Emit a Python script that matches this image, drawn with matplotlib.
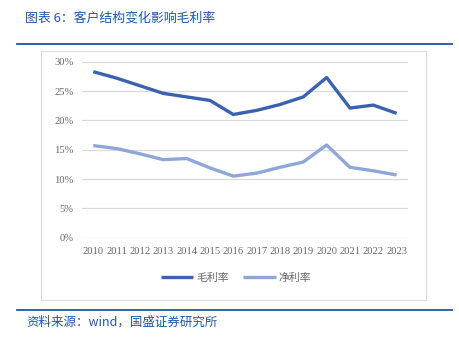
import matplotlib
matplotlib.use("Agg")
import matplotlib.pyplot as plt
from matplotlib.patches import Rectangle
from matplotlib.lines import Line2D
from matplotlib.ticker import PercentFormatter

years = ["2010", "2011", "2012", "2013", "2014", "2015", "2016",
         "2017", "2018", "2019", "2020", "2021", "2022", "2023"]
gross_margin = [28.3, 27.2, 25.9, 24.6, 24.0, 23.4, 21.0,
                21.7, 22.7, 24.0, 27.3, 22.1, 22.6, 21.2]
net_margin = [15.7, 15.2, 14.3, 13.3, 13.5, 11.9, 10.5,
              11.0, 12.0, 12.9, 15.8, 12.0, 11.4, 10.7]
series_names = ["毛利率", "净利率"]

W, H = 460, 344
cjk = ["Noto Sans CJK SC", "DejaVu Sans"]
blue_dark = "#3A62AE"
blue_light = "#8FA6D8"
rule_blue = "#1F55A8"
grey = "#666666"

fig = plt.figure(figsize=(W / 100, H / 100), dpi=100)

def fx(px):
    return px / W

def fy(py):
    return 1 - py / H

# header and footer rules
fig.add_artist(Line2D([fx(17), fx(452)], [fy(44), fy(44)], color=rule_blue, lw=1.3))
fig.add_artist(Line2D([fx(17), fx(452)], [fy(310), fy(310)], color=rule_blue, lw=1.3))
fig.text(fx(25), fy(18), "图表 6：客户结构变化影响毛利率", family=cjk, fontsize=9.3,
         color=rule_blue, va="center", ha="left")
fig.text(fx(26), fy(322), "资料来源：wind，国盛证券研究所", family=cjk, fontsize=9.0,
         color=rule_blue, va="center", ha="left")

# chart frame
fig.add_artist(Rectangle((fx(40.5), fy(300)), fx(426) - fx(40.5), fy(51) - fy(300),
                         transform=fig.transFigure, fill=False, edgecolor="#D9D9D9", lw=0.8))

ax = fig.add_axes([fx(81.6), fy(237.7), fx(408.3) - fx(81.6), fy(61.7) - fy(237.7)])
x = list(range(len(years)))
ax.plot(x, gross_margin, color=blue_dark, lw=2.4, solid_capstyle="butt", label=series_names[0])
ax.plot(x, net_margin, color=blue_light, lw=2.4, solid_capstyle="butt", label=series_names[1])

ax.set_xlim(-0.5, len(years) - 0.5)
ax.set_ylim(0, 30)
ax.set_yticks(range(0, 31, 5))
ax.yaxis.set_major_formatter(PercentFormatter(decimals=0))
ax.set_xticks(x)
ax.set_xticklabels(years)
ax.grid(axis="y", color="#D9D9D9", lw=0.9)
ax.set_axisbelow(True)
for s in ax.spines.values():
    s.set_visible(False)
ax.tick_params(length=0, labelsize=7.6, labelcolor=grey)
ax.tick_params(axis="y", pad=6)
ax.tick_params(axis="x", pad=7)
for lab in ax.get_xticklabels() + ax.get_yticklabels():
    lab.set_family("Liberation Serif")

leg = fig.legend(loc="center", bbox_to_anchor=(fx(236), fy(278)), ncol=2, frameon=False,
                 handlelength=3.0, handletextpad=0.3, columnspacing=1.3,
                 prop={"family": cjk, "size": 7.8})
for t in leg.get_texts():
    t.set_color(grey)

fig.savefig("out.png", dpi=100)
plt.close(fig)
